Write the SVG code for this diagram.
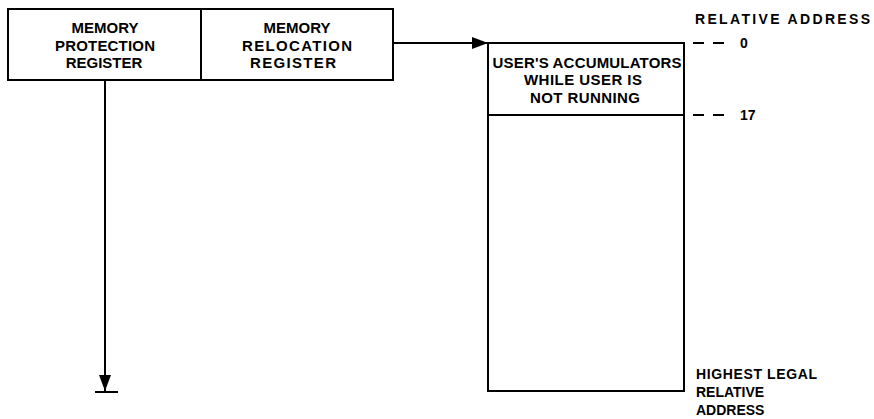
<svg xmlns="http://www.w3.org/2000/svg" width="874" height="419" viewBox="0 0 874 419">
<style>
.box{fill:none;stroke:#000;stroke-width:2}
.ln{fill:none;stroke:#000;stroke-width:2}
.t{font-family:"Liberation Sans",Arial,sans-serif;font-size:15px;font-weight:bold;fill:#000;text-anchor:middle}
.s{font-family:"Liberation Sans",Arial,sans-serif;font-size:14px;font-weight:bold;fill:#000}
</style>
<defs>
<marker id="ah" viewBox="0 0 16 12" refX="16" refY="6" markerWidth="16" markerHeight="12" markerUnits="userSpaceOnUse" orient="auto">
<path d="M0,0 L16,6 L0,12 Z" fill="#000"/>
</marker>
</defs>
<rect width="874" height="419" fill="#fff"/>
<g id="mpr">
<rect class="box" x="8" y="9" width="193" height="71"/>
<text class="t" x="105" y="33">MEMORY</text>
<text class="t" x="105" y="51" textLength="100">PROTECTION</text>
<text class="t" x="104" y="68">REGISTER</text>
</g>
<g id="mrr">
<rect class="box" x="201" y="9" width="192" height="71"/>
<text class="t" x="297" y="33">MEMORY</text>
<text class="t" x="297" y="51" textLength="110">RELOCATION</text>
<text class="t" x="293" y="68" textLength="86">REGISTER</text>
</g>
<g id="memory">
<rect class="box" x="488" y="43" width="196" height="348"/>
<line class="ln" x1="488" y1="115" x2="684" y2="115"/>
<text class="t" x="587" y="68" textLength="189">USER'S ACCUMULATORS</text>
<text class="t" x="583" y="85" textLength="118">WHILE USER IS</text>
<text class="t" x="585" y="103" textLength="110">NOT RUNNING</text>
</g>
<g id="labels">
<text class="s" x="695" y="24" textLength="175">RELATIVE ADDRESS</text>
<line class="ln" x1="693" y1="43" x2="704" y2="43"/>
<line class="ln" x1="713" y1="43" x2="724" y2="43"/>
<text class="s" x="740" y="48">0</text>
<line class="ln" x1="693" y1="115" x2="704" y2="115"/>
<line class="ln" x1="713" y1="115" x2="724" y2="115"/>
<text class="s" x="740" y="120">17</text>
<text class="s" x="696" y="379" textLength="121">HIGHEST LEGAL</text>
<text class="s" x="696" y="397">RELATIVE</text>
<text class="s" x="696" y="415">ADDRESS</text>
</g>
<g id="connectors">
<line class="ln" x1="393" y1="43" x2="488" y2="43" marker-end="url(#ah)"/>
<line class="ln" x1="105" y1="80" x2="105" y2="391" marker-end="url(#ah)"/>
<line class="ln" x1="95" y1="392" x2="118" y2="392"/>
</g>
</svg>
